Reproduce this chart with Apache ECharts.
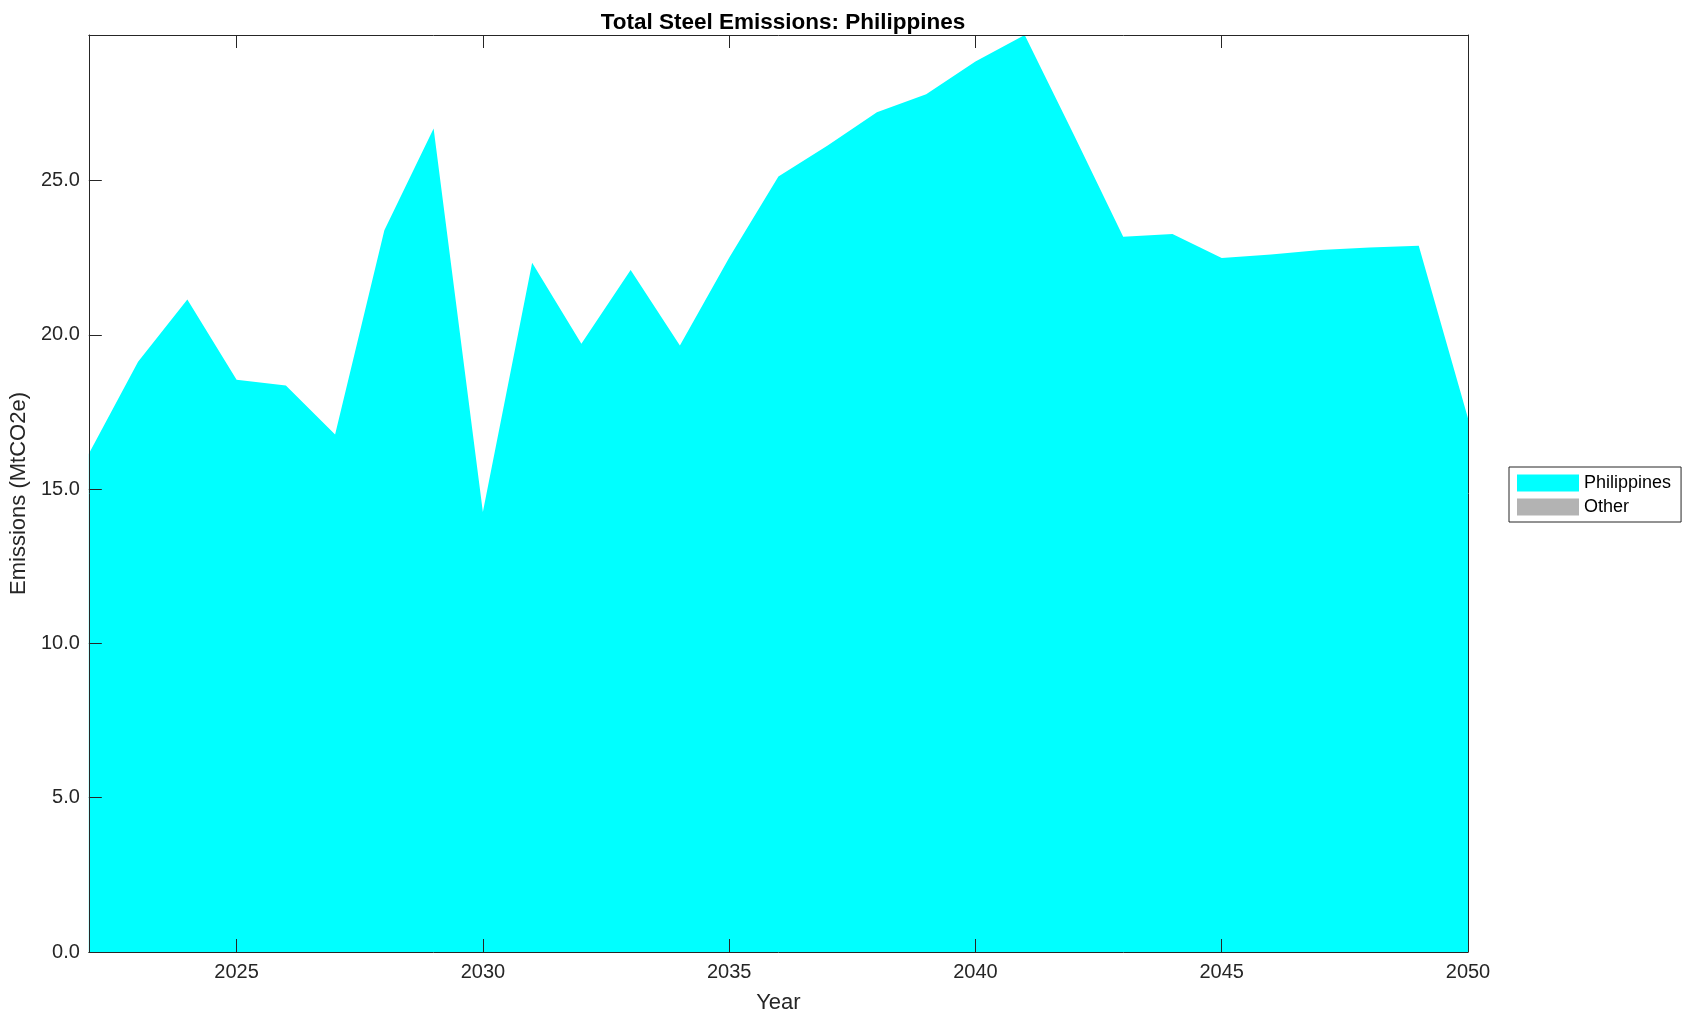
<!DOCTYPE html>
<html>
<head>
<meta charset="utf-8">
<script src="https://cdn.jsdelivr.net/npm/echarts@6/dist/echarts.min.js"></script>
<style>
html,body{margin:0;padding:0;background:#fff;}
#chart{width:1696px;height:1021px;}
</style>
</head>
<body>
<div id="chart"></div>
<script>
const years = [2022,2023,2024,2025,2026,2027,2028,2029,2030,2031,2032,2033,2034,2035,2036,2037,2038,2039,2040,2041,2042,2043,2044,2045,2046,2047,2048,2049,2050];
const philippines = [16.15,19.13,21.15,18.55,18.36,16.77,23.39,26.69,14.26,22.34,19.71,22.10,19.66,22.50,25.13,26.14,27.22,27.80,28.86,29.72,26.48,23.18,23.27,22.49,22.61,22.75,22.83,22.89,17.30];
const other = [0,0,0,0,0,0,0,0,0,0,0,0,0,0,0,0,0,0,0,0,0,0,0,0,0,0,0,0,0];
const xTicks = [2025,2030,2035,2040,2045,2050];
const yTicks = [0,5,10,15,20,25];

const FONT = 'Liberation Sans, Arial, Helvetica, sans-serif';
const AX = '#262626';
const chart = echarts.init(document.getElementById('chart'), null, {renderer:'canvas'});

function axisCommon() {
  return {
    z:10,
    axisLine:{show:true, onZero:false, lineStyle:{color:AX, width:1}},
    splitLine:{show:false}
  };
}

const option = {
  animation:false,
  backgroundColor:'#ffffff',
  title:{
    text:'Total Steel Emissions: Philippines',
    left:778, top:6, textAlign:'center',
    textStyle:{fontFamily:FONT, fontSize:22.5, fontWeight:'bold', color:'#000'}
  },
  legend:{
    orient:'vertical',
    left:1509, top:467,
    padding:[7,10,6,8],
    itemWidth:62, itemHeight:17, itemGap:6,
    borderColor:AX, borderWidth:1,
    icon:'rect',
    textStyle:{fontFamily:FONT, fontSize:18, color:'#000'},
    data:['Philippines','Other']
  },
  grid:{left:88, right:228, top:35, bottom:69, containLabel:false},
  xAxis:[
    Object.assign({
      type:'value', min:2022, max:2050, position:'bottom',
      name:'Year', nameLocation:'middle', nameGap:40,
      nameTextStyle:{fontFamily:FONT, fontSize:22, color:AX},
      axisTick:{show:true, inside:true, length:13, lineStyle:{color:AX}, customValues:xTicks},
      axisLabel:{show:true, margin:10, fontFamily:FONT, fontSize:20, color:AX, customValues:xTicks,
        formatter:v=>String(v)}
    }, axisCommon()),
    Object.assign({
      type:'value', min:2022, max:2050, position:'top',
      axisTick:{show:true, inside:true, length:13, lineStyle:{color:AX}, customValues:xTicks},
      axisLabel:{show:false}
    }, axisCommon())
  ],
  yAxis:[
    Object.assign({
      type:'value', min:0, max:'dataMax', position:'left',
      name:'Emissions (MtCO2e)', nameLocation:'middle', nameGap:56, nameRotate:90,
      nameTextStyle:{fontFamily:FONT, fontSize:22, color:AX},
      axisTick:{show:true, inside:true, length:13, lineStyle:{color:AX}, customValues:yTicks},
      axisLabel:{show:true, margin:9, fontFamily:FONT, fontSize:20, color:AX, customValues:yTicks,
        formatter:v=>v.toFixed(1)}
    }, axisCommon()),
    Object.assign({
      type:'value', min:0, max:'dataMax', position:'right',
      axisTick:{show:true, inside:true, length:13, lineStyle:{color:AX}, customValues:yTicks},
      axisLabel:{show:false}
    }, axisCommon())
  ],
  series:[
    {
      name:'Philippines', type:'line', stack:'total',
      xAxisIndex:0, yAxisIndex:0,
      data:years.map((y,i)=>[y, philippines[i]]),
      showSymbol:false, symbol:'none',
      lineStyle:{width:0, color:'#00ffff'},
      itemStyle:{color:'#00ffff'},
      areaStyle:{color:'#00ffff', opacity:1},
      z:1
    },
    {
      name:'Other', type:'line', stack:'total',
      xAxisIndex:0, yAxisIndex:0,
      data:years.map((y,i)=>[y, other[i]]),
      showSymbol:false, symbol:'none',
      lineStyle:{width:0, color:'#b3b3b3'},
      itemStyle:{color:'#b3b3b3'},
      areaStyle:{color:'#b3b3b3', opacity:1},
      z:1
    }
  ]
};
chart.setOption(option);
</script>
</body>
</html>
